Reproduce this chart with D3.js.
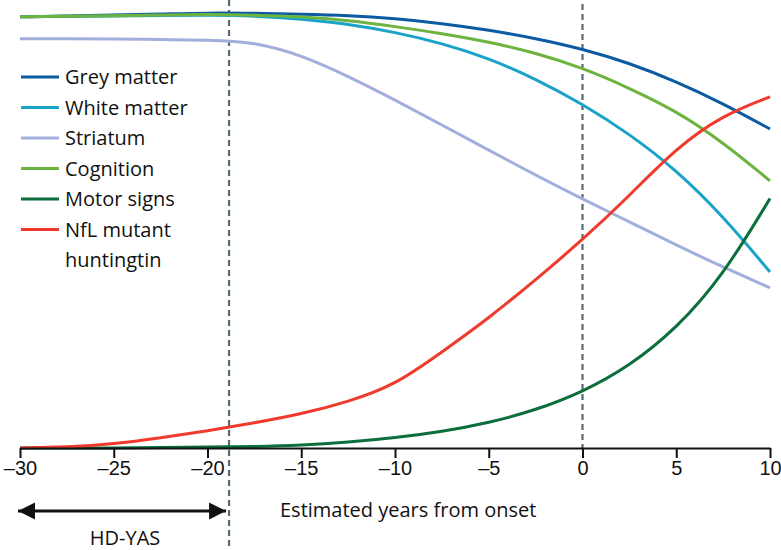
<!DOCTYPE html>
<html>
<head>
<meta charset="utf-8">
<script src="https://cdn.jsdelivr.net/npm/d3@7"></script>
<style>
  body { margin: 0; background: #fff; }
  svg { display: block; font-family: "Open Sans", sans-serif; }
</style>
</head>
<body>
<div id="chart"></div>
<script>
// years from estimated onset (x) and curve heights (arbitrary 0-100 units)
const years = [-30, -27.5, -25, -22.5, -20, -17.5, -15, -12.5, -10, -7.5, -5, -2.5, 0, 2.5, 5, 7.5, 10];
const greyMatter = [98.0, 98.2, 98.4, 98.6, 98.9, 98.8, 98.6, 98.3, 97.6, 96.5, 95.0, 93.1, 90.7, 87.5, 83.3, 78.3, 72.5];
const whiteMatter = [98.0, 98.1, 98.2, 98.3, 98.4, 98.2, 97.5, 96.4, 94.5, 92.0, 88.6, 83.9, 78.2, 71.4, 63.2, 52.7, 40.0];
const striatum = [93.0, 93.0, 93.0, 92.8, 92.7, 92.3, 89.3, 84.5, 79.1, 73.4, 67.7, 62.0, 56.6, 51.4, 46.1, 41.1, 36.4];
const cognition = [98.0, 98.1, 98.2, 98.4, 98.6, 98.4, 98.0, 97.2, 95.8, 94.2, 92.3, 89.8, 86.4, 81.8, 76.6, 69.5, 60.7];
const motorSigns = [0, 0, 0, 0.1, 0.2, 0.3, 0.6, 1.3, 2.3, 3.7, 5.7, 8.6, 12.7, 18.6, 27.1, 39.2, 56.7];
const nfl = [0, 0.2, 0.9, 2.3, 3.9, 5.7, 7.7, 10.5, 14.3, 21.8, 29.5, 38.2, 47.3, 57.3, 68.2, 75.7, 79.8];

const seriesNames = ["Grey matter", "White matter", "Striatum", "Cognition", "Motor signs", "NfL mutant huntingtin"];
const seriesValues = [greyMatter, whiteMatter, striatum, cognition, motorSigns, nfl];
const seriesColours = ["#0b5aa2", "#19a3c9", "#a2aedb", "#6db33f", "#0b6e3b", "#f03a2c"];

const xTicks = [-30, -25, -20, -15, -10, -5, 0, 5, 10];
const markerYears = [-18.85, 0];
const hdYasRange = [-30, -18.85];

const width = 781;
const height = 550;

const x = d3.scaleLinear().domain([-30, 10]).range([20, 770]);
const y = d3.scaleLinear().domain([0, 100]).range([448, 8]);

const svg = d3.select("#chart")
  .append("svg")
  .attr("width", width)
  .attr("height", height);

// dashed reference lines
svg.append("line")
  .attr("x1", x(markerYears[0])).attr("x2", x(markerYears[0]))
  .attr("y1", 0).attr("y2", height)
  .attr("stroke", "#566a74").attr("stroke-width", 2.2)
  .attr("stroke-dasharray", "6,4");
svg.append("line")
  .attr("x1", x(markerYears[1])).attr("x2", x(markerYears[1]))
  .attr("y1", 4).attr("y2", y(0))
  .attr("stroke", "#566a74").attr("stroke-width", 2.2)
  .attr("stroke-dasharray", "6,4");

const line = d3.line()
  .x((d, i) => x(years[i]))
  .y(d => y(d))
  .curve(d3.curveBasis);

svg.selectAll("path.curve")
  .data(seriesValues)
  .enter()
  .append("path")
  .attr("class", "curve")
  .attr("d", d => line(d))
  .attr("fill", "none")
  .attr("stroke", (d, i) => seriesColours[i])
  .attr("stroke-width", 3);

// x axis
const axis = svg.append("g")
  .attr("transform", `translate(0,${y(0)})`)
  .call(d3.axisBottom(x)
    .tickValues(xTicks)
    .tickSize(10)
    .tickSizeOuter(0)
    .tickPadding(3)
    .tickFormat(d => d < 0 ? "\u2013" + Math.abs(d) : d));
axis.select(".domain").attr("stroke", "#111").attr("stroke-width", 2);
axis.selectAll(".tick line").attr("stroke", "#111").attr("stroke-width", 2);
axis.selectAll(".tick text").attr("fill", "#111").style("font-size", "20px");

svg.append("text")
  .attr("x", 280)
  .attr("y", 517)
  .attr("fill", "#111")
  .style("font-size", "20px")
  .text("Estimated years from onset");

// legend
const legend = svg.append("g");
seriesNames.forEach((name, i) => {
  const ly = 77 + i * 30.5;
  legend.append("line")
    .attr("x1", 21).attr("x2", 59)
    .attr("y1", ly).attr("y2", ly)
    .attr("stroke", seriesColours[i]).attr("stroke-width", 3);
  const words = name === "NfL mutant huntingtin" ? ["NfL mutant", "huntingtin"] : [name];
  words.forEach((w, j) => {
    legend.append("text")
      .attr("x", 65)
      .attr("y", ly + 7 + j * 30.5)
      .attr("fill", "#111")
      .style("font-size", "20px")
      .text(w);
  });
});

// HD-YAS double arrow
svg.append("defs").append("marker")
  .attr("id", "head")
  .attr("viewBox", "0 0 10 10")
  .attr("refX", 10).attr("refY", 5)
  .attr("markerWidth", 17).attr("markerHeight", 20)
  .attr("markerUnits", "userSpaceOnUse")
  .attr("orient", "auto-start-reverse")
  .append("path")
  .attr("d", "M0,0L10,5L0,10Z")
  .attr("fill", "#111");

svg.append("line")
  .attr("x1", x(hdYasRange[0]) - 2).attr("x2", x(hdYasRange[1]) - 3)
  .attr("y1", 511).attr("y2", 511)
  .attr("stroke", "#111").attr("stroke-width", 3)
  .attr("marker-start", "url(#head)")
  .attr("marker-end", "url(#head)");

svg.append("text")
  .attr("x", 125)
  .attr("y", 545)
  .attr("text-anchor", "middle")
  .attr("fill", "#111")
  .style("font-size", "20px")
  .text("HD-YAS");
</script>
</body>
</html>
